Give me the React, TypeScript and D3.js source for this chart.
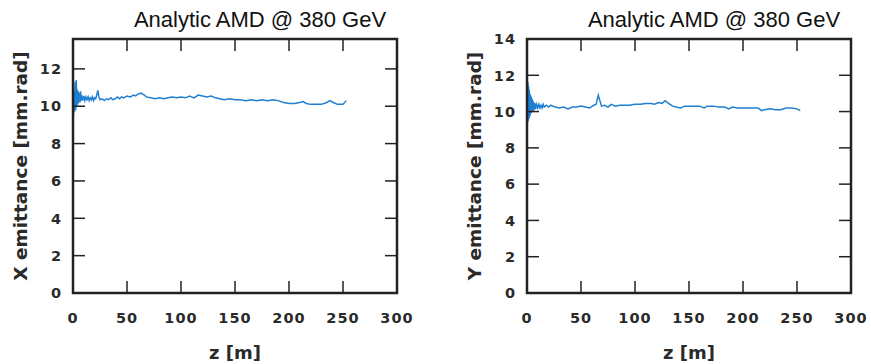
import { useMemo } from "react"
import * as d3 from "d3"

const title = "Analytic AMD @ 380 GeV"
const xTicks = [0, 50, 100, 150, 200, 250, 300]
const leftYTicks = [0, 2, 4, 6, 8, 10, 12]
const rightYTicks = [0, 2, 4, 6, 8, 10, 12, 14]

// horizontal emittance vs z
const xZ = [
  0, 0.5, 1, 1.5, 2, 2.5, 3, 3.5, 4, 4.5, 5, 5.5, 6, 6.5, 7, 7.5, 8, 9, 10, 11, 12, 13, 14, 15, 16, 17, 18, 19, 20,
  21, 22, 23, 24, 25, 27, 29, 31, 33, 35, 37, 39, 41, 43, 45, 47, 50, 53, 56, 58, 60, 63, 66, 68, 72, 76, 80, 84,
  88, 92, 96, 100, 104, 108, 112, 116, 120, 124, 128, 132, 136, 140, 145, 150, 155, 160, 165, 170, 175, 180, 185,
  190, 195, 200, 205, 210, 213, 216, 220, 225, 230, 235, 238, 241, 245, 250, 253,
]
const xEmit = [
  10.0, 9.5, 10.8, 9.7, 11.3, 9.8, 11.4, 10.0, 10.9, 10.1, 10.8, 10.2, 10.7, 10.2, 10.8, 10.3, 10.6, 10.3, 10.55,
  10.3, 10.5, 10.35, 10.5, 10.3, 10.45, 10.35, 10.5, 10.3, 10.45, 10.4, 10.6, 10.85, 10.5, 10.35, 10.4, 10.3,
  10.4, 10.35, 10.45, 10.35, 10.4, 10.5, 10.4, 10.5, 10.45, 10.55, 10.5, 10.6, 10.55, 10.65, 10.7, 10.6, 10.5,
  10.45, 10.4, 10.45, 10.4, 10.45, 10.5, 10.45, 10.5, 10.45, 10.55, 10.45, 10.6, 10.55, 10.5, 10.55, 10.45, 10.4,
  10.35, 10.4, 10.35, 10.35, 10.3, 10.35, 10.3, 10.35, 10.3, 10.35, 10.3, 10.2, 10.15, 10.15, 10.2, 10.25, 10.15,
  10.1, 10.1, 10.1, 10.2, 10.3, 10.2, 10.1, 10.1, 10.3,
]

// vertical emittance vs z
const yZ = [
  0, 0.3, 0.6, 0.9, 1.2, 1.5, 1.8, 2.1, 2.4, 2.7, 3, 3.3, 3.6, 4, 4.4, 4.8, 5.2, 5.6, 6, 6.5, 7, 7.5, 8, 9, 10, 11,
  12, 13, 14, 15, 16, 18, 20, 22, 24, 26, 30, 34, 38, 42, 46, 50, 54, 58, 62, 64, 66, 67, 69, 72, 75, 78, 82, 86,
  90, 95, 100, 105, 110, 115, 118, 122, 125, 128, 131, 135, 138, 142, 146, 150, 155, 160, 164, 167, 172, 178, 183,
  187, 190, 195, 200, 205, 210, 214, 217, 220, 225, 230, 235, 240, 245, 250, 253,
]
const yEmit = [
  10.0, 11.7, 9.4, 11.6, 9.5, 11.4, 9.6, 11.2, 9.7, 11.0, 9.8, 10.9, 9.9, 10.8, 9.95, 10.7, 10.0, 10.6, 10.05,
  10.5, 10.1, 10.45, 10.15, 10.4, 10.2, 10.4, 10.2, 10.35, 10.2, 10.4, 10.25, 10.35, 10.25, 10.35, 10.3, 10.25,
  10.2, 10.25, 10.15, 10.25, 10.25, 10.3, 10.25, 10.2, 10.35, 10.4, 10.9, 10.7, 10.3, 10.35, 10.25, 10.4, 10.3,
  10.35, 10.35, 10.35, 10.4, 10.4, 10.45, 10.45, 10.4, 10.5, 10.45, 10.6, 10.45, 10.3, 10.25, 10.2, 10.3, 10.3,
  10.3, 10.3, 10.2, 10.3, 10.3, 10.25, 10.25, 10.15, 10.25, 10.2, 10.2, 10.2, 10.2, 10.2, 10.05, 10.1, 10.15, 10.1,
  10.1, 10.2, 10.2, 10.15, 10.05,
]

interface PanelProps {
  left: number
  yMax: number
  yTicks: number[]
  zs: number[]
  vals: number[]
  yTitle: string
}

const top = 39
const bottom = 293
const plotW = 324
const frameCol = "#222"
const textCol = "#2a2a2a"
const lineCol = "#1f7fd0"

function Panel({ left, yMax, yTicks, zs, vals, yTitle }: PanelProps) {
  const x = d3.scaleLinear().domain([0, 300]).range([left, left + plotW])
  const y = d3.scaleLinear().domain([0, yMax]).range([bottom, top])

  const path = useMemo(() => {
    const pts: [number, number][] = zs.map((z, i) => [z, vals[i]])
    return d3
      .line<[number, number]>()
      .x((d) => x(d[0]))
      .y((d) => y(d[1]))(pts)
  }, [zs, vals, left, yMax])

  const tl = 12
  return (
    <g>
      <text x={left + plotW / 2 + 25} y={27} textAnchor="middle" fontFamily="Liberation Sans, Arial, sans-serif" fontSize={22} fill="#111">
        {title}
      </text>
      <path d={path || ""} fill="none" stroke={lineCol} strokeWidth={1.5} />
      {xTicks.slice(1, -1).map((t) => (
        <g key={"xt" + t}>
          <line x1={x(t)} x2={x(t)} y1={bottom} y2={bottom - tl} stroke={frameCol} strokeWidth={1.5} />
          <line x1={x(t)} x2={x(t)} y1={top} y2={top + tl} stroke={frameCol} strokeWidth={1.5} />
        </g>
      ))}
      {yTicks.filter((t) => t > 0 && t < yMax).map((t) => (
        <g key={"yt" + t}>
          <line x1={left} x2={left + tl} y1={y(t)} y2={y(t)} stroke={frameCol} strokeWidth={1.5} />
          <line x1={left + plotW} x2={left + plotW - tl} y1={y(t)} y2={y(t)} stroke={frameCol} strokeWidth={1.5} />
        </g>
      ))}
      <rect x={left} y={top} width={plotW} height={bottom - top} fill="none" stroke={frameCol} strokeWidth={2.5} />
      {xTicks.map((t) => (
        <text key={"xl" + t} x={x(t)} y={323} textAnchor="middle" fontFamily="DejaVu Sans, sans-serif" fontWeight="bold" fontSize={14.5} letterSpacing={1} fill={textCol}>
          {t}
        </text>
      ))}
      {yTicks.map((t) => (
        <text key={"yl" + t} x={left - 11} y={y(t)} dy="0.36em" textAnchor="end" fontFamily="DejaVu Sans, sans-serif" fontWeight="bold" fontSize={14.5} letterSpacing={1} fill={textCol}>
          {t}
        </text>
      ))}
      <text x={left + plotW / 2} y={359} textAnchor="middle" fontFamily="DejaVu Sans, sans-serif" fontWeight="bold" fontSize={18} fill={textCol}>
        z [m]
      </text>
      <text
        transform={`translate(${left - 53},166) rotate(-90)`}
        dy="0.36em"
        textAnchor="middle"
        fontFamily="DejaVu Sans, sans-serif"
        fontWeight="bold"
        fontSize={18.5}
        fill={textCol}
      >
        {yTitle}
      </text>
    </g>
  )
}

export default function App() {
  return (
    <svg width={871} height={364} style={{ position: "absolute", left: 0, top: 0, background: "#fff" }}>
      <Panel left={73} yMax={13.6} yTicks={leftYTicks} zs={xZ} vals={xEmit} yTitle="X emittance [mm.rad]" />
      <Panel left={527} yMax={14} yTicks={rightYTicks} zs={yZ} vals={yEmit} yTitle="Y emittance [mm.rad]" />
    </svg>
  )
}
